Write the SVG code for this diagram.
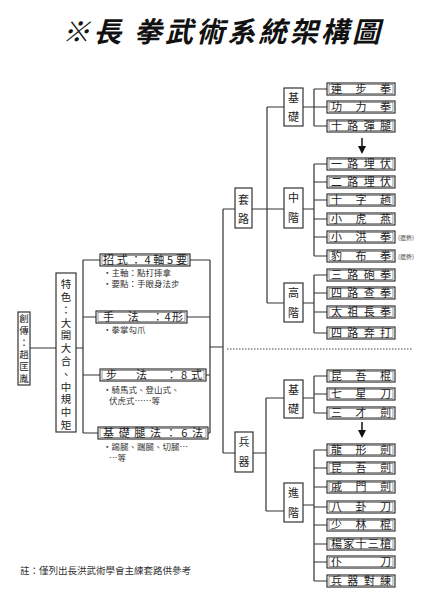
<svg xmlns="http://www.w3.org/2000/svg" width="442" height="600" viewBox="0 0 442 600">
<style>
text{font-family:"Noto Sans CJK TC","Noto Sans CJK SC",sans-serif;fill:#222}
.title{font-size:28px;font-style:italic;font-weight:bold;fill:#111}
.ln{stroke:#333;stroke-width:1.2;fill:none}
.vb{fill:#fff;stroke:#333;stroke-width:1.2}
.vt{font-size:11px;text-anchor:middle}
.vv{writing-mode:vertical-rl}
.lo{fill:#fff;stroke:#222;stroke-width:1.1}
.li{fill:none;stroke:#555;stroke-width:0.6}
.lt{font-size:11px}
.mt{font-size:11px}
.st{font-size:8.5px;fill:#333}
.el{font-size:6px;fill:#444}
.note{font-size:9.5px;fill:#333}
</style>
<defs>
<marker id="ah" markerWidth="8" markerHeight="8" refX="4" refY="4" orient="auto" markerUnits="userSpaceOnUse">
<path d="M0,0 L8,4 L0,8 z" fill="#111"/>
</marker>
</defs>
<text class="title" x="221" y="42" text-anchor="middle" textLength="318" lengthAdjust="spacing">※長 拳武術系統架構圖</text>

<g id="connectors">
<path class="ln" d="M30,348 H56 M76,348 H83 M83,260 V433 M83,260 H100 M83,317 H96 M83,375 H100 M83,433 H98"/>
<path class="ln" d="M190,260 H210 M187,317 H210 M206,375 H210 M208,433 H210 M210,260 V433 M210,347 H223"/>
<path class="ln" d="M223,209 V453 M223,209 H235 M252,209 H267 M267,107 V303 M267,107 H284 M267,209 H284 M267,303 H284"/>
<path class="ln" d="M303,107 H314 M314,89 V126 M314,89 H327 M314,107 H327 M314,126 H327"/>
<path class="ln" d="M303,209 H314 M314,164 V256 M314,164 H327 M314,182 H327 M314,200 H327 M314,219 H327 M314,237 H327 M314,256 H327"/>
<path class="ln" d="M303,303 H314 M314,275 V333 M314,275 H327 M314,293 H327 M314,312 H327 M314,333 H327"/>
<path class="ln" d="M223,453 H235 M253,453 H266 M266,398 V511 M266,398 H284 M266,511 H284"/>
<path class="ln" d="M303,398 H314 M314,376 V413 M314,376 H327 M314,394 H327 M314,413 H327"/>
<path class="ln" d="M303,505 H314 M314,450 V581 M314,450 H327 M314,468 H327 M314,487 H327 M314,507 H327 M314,525 H327 M314,544 H327 M314,562 H327 M314,581 H327"/>
<line x1="362" y1="138" x2="362" y2="150" stroke="#111" stroke-width="1.5" marker-end="url(#ah)"/>
<line x1="362" y1="422" x2="362" y2="434" stroke="#111" stroke-width="1.5" marker-end="url(#ah)"/>
<line x1="227" y1="349" x2="413" y2="349" stroke="#444" stroke-width="1.2" stroke-dasharray="1.5 1.5"/>
</g>

<g id="founder">
<rect class="vb" x="18" y="312" width="12" height="73"/>
<text class="vv" x="24" y="314" style="font-size:9.5px;letter-spacing:2.4px">創傳：趙匡胤</text>
</g>

<g id="feature">
<rect class="vb" x="56" y="273" width="20" height="159"/>
<text class="vv" x="66" y="279" style="font-size:10.5px;letter-spacing:2.3px">特色：大開大合、中規中矩</text>
</g>

<g id="zhaoshi">
<rect class="lo" x="100" y="254" width="90" height="12"/><rect class="li" x="102" y="255.5" width="86" height="9"/>
<text class="mt" x="103" y="264" textLength="84" lengthAdjust="spacing">招式：4軸5要</text>
<text class="st" x="103" y="276">・主軸：點打摔拿</text>
<text class="st" x="103" y="287">・要點：手眼身法步</text>
</g>
<g id="shoufa">
<rect class="lo" x="96" y="311" width="91" height="12"/><rect class="li" x="98" y="312.5" width="87" height="9"/>
<text class="mt" x="103" y="321" textLength="80" lengthAdjust="spacing">手　法　：4形</text>
<text class="st" x="103" y="333">・拳掌勾爪</text>
</g>
<g id="bufa">
<rect class="lo" x="100" y="369" width="106" height="12"/><rect class="li" x="102" y="370.5" width="102" height="9"/>
<text class="mt" x="106" y="379" textLength="96" lengthAdjust="spacing">步　法　：8式</text>
<text class="st" x="103" y="393">・騎馬式、登山式、</text>
<text class="st" x="109" y="404">伏虎式……等</text>
</g>
<g id="jichutuifa">
<rect class="lo" x="98" y="427" width="110" height="12"/><rect class="li" x="100" y="428.5" width="106" height="9"/>
<text class="mt" x="103" y="437" textLength="100" lengthAdjust="spacing">基礎腿法：6法</text>
<text class="st" x="103" y="450">・踢腿、踹腿、切腿…</text>
<text class="st" x="109" y="461">…等</text>
</g>

<g id="taolu">
<rect class="vb" x="235" y="188" width="17" height="40"/>
<text class="vt"><tspan x="243.5" y="204">套</tspan><tspan x="243.5" y="223">路</tspan></text>
</g>
<g id="tl-jichu">
<rect class="vb" x="284" y="88" width="19" height="38"/>
<text class="vt"><tspan x="293.5" y="102">基</tspan><tspan x="293.5" y="121">礎</tspan></text>
</g>
<g id="tl-zhongjie">
<rect class="vb" x="284" y="188" width="19" height="40"/>
<text class="vt"><tspan x="293.5" y="202">中</tspan><tspan x="293.5" y="222">階</tspan></text>
</g>
<g id="tl-gaojie">
<rect class="vb" x="284" y="283" width="19" height="39"/>
<text class="vt"><tspan x="293.5" y="297">高</tspan><tspan x="293.5" y="317">階</tspan></text>
</g>
<g id="bingqi">
<rect class="vb" x="235" y="432" width="18" height="40"/>
<text class="vt"><tspan x="244" y="446">兵</tspan><tspan x="244" y="466">器</tspan></text>
</g>
<g id="bq-jichu">
<rect class="vb" x="284" y="380" width="19" height="38"/>
<text class="vt"><tspan x="293.5" y="394">基</tspan><tspan x="293.5" y="413">礎</tspan></text>
</g>
<g id="bq-jinjie">
<rect class="vb" x="284" y="483" width="19" height="39"/>
<text class="vt"><tspan x="293.5" y="497">進</tspan><tspan x="293.5" y="517">階</tspan></text>
</g>

<g id="l1"><rect class="lo" x="327" y="83" width="68" height="12"/><rect class="li" x="329" y="84.5" width="64" height="9"/><text class="lt" x="331" y="93" textLength="60" lengthAdjust="spacing">連步拳</text></g>
<g id="l2"><rect class="lo" x="327" y="101" width="68" height="12"/><rect class="li" x="329" y="102.5" width="64" height="9"/><text class="lt" x="331" y="111" textLength="60" lengthAdjust="spacing">功力拳</text></g>
<g id="l3"><rect class="lo" x="327" y="120" width="68" height="12"/><rect class="li" x="329" y="121.5" width="64" height="9"/><text class="lt" x="331" y="130" textLength="60" lengthAdjust="spacing">十路彈腿</text></g>

<g id="l4"><rect class="lo" x="327" y="158" width="68" height="12"/><rect class="li" x="329" y="159.5" width="64" height="9"/><text class="lt" x="331" y="168" textLength="60" lengthAdjust="spacing">一路埋伏</text></g>
<g id="l5"><rect class="lo" x="327" y="176" width="68" height="12"/><rect class="li" x="329" y="177.5" width="64" height="9"/><text class="lt" x="331" y="186" textLength="60" lengthAdjust="spacing">二路埋伏</text></g>
<g id="l6"><rect class="lo" x="327" y="194" width="68" height="12"/><rect class="li" x="329" y="195.5" width="64" height="9"/><text class="lt" x="331" y="204" textLength="60" lengthAdjust="spacing">十字趟</text></g>
<g id="l7"><rect class="lo" x="327" y="213" width="68" height="12"/><rect class="li" x="329" y="214.5" width="64" height="9"/><text class="lt" x="331" y="223" textLength="60" lengthAdjust="spacing">小虎燕</text></g>
<g id="l8"><rect class="lo" x="327" y="231" width="68" height="12"/><rect class="li" x="329" y="232.5" width="64" height="9"/><text class="lt" x="331" y="241" textLength="60" lengthAdjust="spacing">小洪拳</text><text class="el" x="398" y="239.5">(選修)</text></g>
<g id="l9"><rect class="lo" x="327" y="250" width="68" height="12"/><rect class="li" x="329" y="251.5" width="64" height="9"/><text class="lt" x="331" y="260" textLength="60" lengthAdjust="spacing">豹布拳</text><text class="el" x="398" y="258.5">(選修)</text></g>

<g id="l10"><rect class="lo" x="327" y="269" width="68" height="12"/><rect class="li" x="329" y="270.5" width="64" height="9"/><text class="lt" x="331" y="279" textLength="60" lengthAdjust="spacing">三路砲拳</text></g>
<g id="l11"><rect class="lo" x="327" y="287" width="68" height="12"/><rect class="li" x="329" y="288.5" width="64" height="9"/><text class="lt" x="331" y="297" textLength="60" lengthAdjust="spacing">四路查拳</text></g>
<g id="l12"><rect class="lo" x="327" y="306" width="68" height="12"/><rect class="li" x="329" y="307.5" width="64" height="9"/><text class="lt" x="331" y="316" textLength="60" lengthAdjust="spacing">太祖長拳</text></g>
<g id="l13"><rect class="lo" x="327" y="327" width="68" height="12"/><rect class="li" x="329" y="328.5" width="64" height="9"/><text class="lt" x="331" y="337" textLength="60" lengthAdjust="spacing">四路奔打</text></g>

<g id="w1"><rect class="lo" x="327" y="370" width="68" height="12"/><rect class="li" x="329" y="371.5" width="64" height="9"/><text class="lt" x="331" y="380" textLength="60" lengthAdjust="spacing">昆吾棍</text></g>
<g id="w2"><rect class="lo" x="327" y="388" width="68" height="12"/><rect class="li" x="329" y="389.5" width="64" height="9"/><text class="lt" x="331" y="398" textLength="60" lengthAdjust="spacing">七星刀</text></g>
<g id="w3"><rect class="lo" x="327" y="407" width="68" height="12"/><rect class="li" x="329" y="408.5" width="64" height="9"/><text class="lt" x="331" y="417" textLength="60" lengthAdjust="spacing">三才劍</text></g>

<g id="w4"><rect class="lo" x="327" y="444" width="68" height="12"/><rect class="li" x="329" y="445.5" width="64" height="9"/><text class="lt" x="331" y="454" textLength="60" lengthAdjust="spacing">龍形劍</text></g>
<g id="w5"><rect class="lo" x="327" y="462" width="68" height="12"/><rect class="li" x="329" y="463.5" width="64" height="9"/><text class="lt" x="331" y="472" textLength="60" lengthAdjust="spacing">昆吾劍</text></g>
<g id="w6"><rect class="lo" x="327" y="481" width="68" height="12"/><rect class="li" x="329" y="482.5" width="64" height="9"/><text class="lt" x="331" y="491" textLength="60" lengthAdjust="spacing">戚門劍</text></g>
<g id="w7"><rect class="lo" x="327" y="501" width="68" height="12"/><rect class="li" x="329" y="502.5" width="64" height="9"/><text class="lt" x="331" y="511" textLength="60" lengthAdjust="spacing">八卦刀</text></g>
<g id="w8"><rect class="lo" x="327" y="519" width="68" height="12"/><rect class="li" x="329" y="520.5" width="64" height="9"/><text class="lt" x="331" y="529" textLength="60" lengthAdjust="spacing">少林棍</text></g>
<g id="w9"><rect class="lo" x="327" y="538" width="68" height="12"/><rect class="li" x="329" y="539.5" width="64" height="9"/><text class="lt" x="331" y="548" textLength="60" lengthAdjust="spacing">楊家十三槍</text></g>
<g id="w10"><rect class="lo" x="327" y="556" width="68" height="12"/><rect class="li" x="329" y="557.5" width="64" height="9"/><text class="lt" x="331" y="566" textLength="60" lengthAdjust="spacing">仆刀</text></g>
<g id="w11"><rect class="lo" x="327" y="575" width="68" height="12"/><rect class="li" x="329" y="576.5" width="64" height="9"/><text class="lt" x="331" y="585" textLength="60" lengthAdjust="spacing">兵器對練</text></g>

<text class="note" x="20" y="574">註：僅列出長洪武術學會主練套路供參考</text>
</svg>
